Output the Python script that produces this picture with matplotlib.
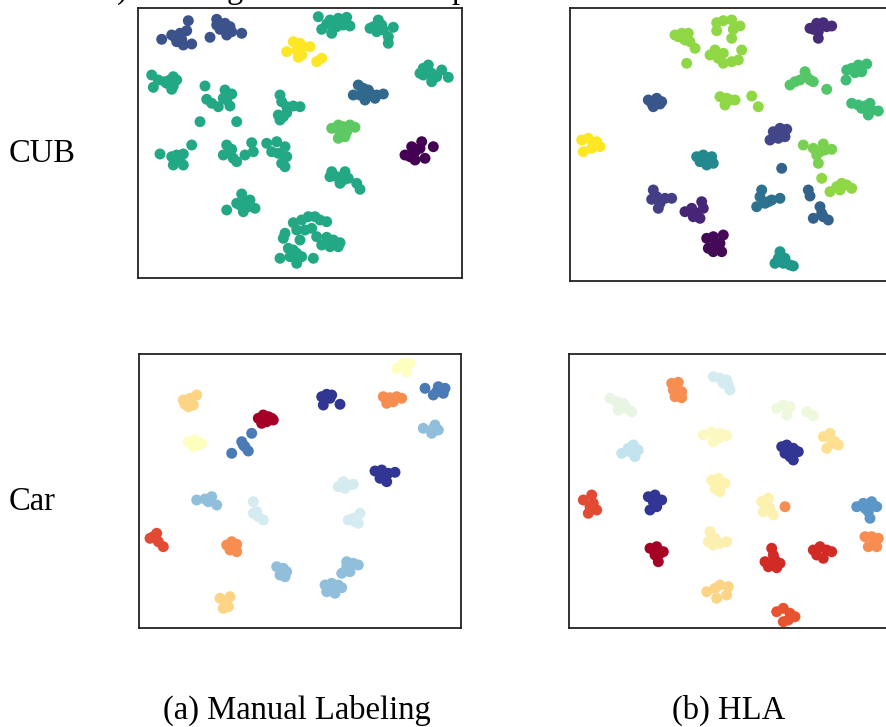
import matplotlib
matplotlib.use("Agg")
import matplotlib.pyplot as plt

plt.rcParams["font.family"] = ["Liberation Serif", "DejaVu Serif"]

# --- data: t-SNE style clusters, coordinates (pixel units) ---

# CUB, manual labeling
cub_manual_x = [
    [161.7, 171.7, 180, 188.3, 186.7, 176.7, 183.3, 191.7, 175, 181.7],
    [216.7, 225, 230, 220, 226.7, 210, 241.7, 231.7, 221.7, 216.7],
    [318.3, 330, 338.3, 346.7, 321.7, 331.7, 336.7, 343.3, 350, 326.7, 333.3],
    [370, 378.3, 383.3, 393.3, 388.3, 388.3, 376.7, 381.7, 373.3],
    [286.7, 293.3, 300, 296.7, 303.3, 310, 301.7, 298.3, 316.7, 321.7],
    [423.3, 428.3, 431.7, 441.7, 448.3, 431.7, 423.3, 436.7, 420],
    [151.7, 153.3, 158.3, 165, 170, 173.3, 176.7, 173.3, 166.7, 171.7],
    [205, 225, 231.7, 206.7, 211.7, 218.3, 226.7, 230, 200, 236.7, 223.3],
    [280, 281.7, 286.7, 293.3, 300, 278.3, 283.3, 280, 286.7],
    [358.3, 363.3, 353.3, 360, 365, 370, 376.7, 383.3, 375, 368.3],
    [331.7, 338.3, 343.3, 350, 355, 340, 346.7, 338.3, 345],
    [405, 411.7, 415, 421.7, 420, 433.3, 425, 415, 410],
    [160, 171.7, 176.7, 183.3, 173.3, 183.3, 180, 191.7, 175],
    [226.7, 223.3, 230, 233.3, 236.7, 245, 251.7, 253.3, 231.7],
    [266.7, 276.7, 271.7, 285, 286.7, 281.7, 285, 278.3],
    [331.7, 336.7, 345, 340, 330, 348.3, 356.7, 360, 343.3],
    [226.7, 236.7, 241.7, 245, 250, 255, 243.3, 240, 248.3],
    [293.3, 301.7, 308.3, 315, 320, 326.7, 296.7, 305, 311.7, 285, 283.3, 300,
     316.7, 326.7, 333.3, 340, 321.7, 330, 338.3, 288.3, 280, 296.7, 290,
     301.7, 296.7, 313.3, 293.3],
]
cub_manual_y = [
    [39.3, 35, 33.3, 20.7, 30.7, 41.7, 45, 44, 37.3, 39.3],
    [19.3, 23.3, 26.7, 29.3, 35, 37.3, 33.3, 31.7, 26, 25],
    [16.7, 20, 18.3, 17.3, 29.3, 33.3, 26.7, 25, 26, 24, 23.3],
    [28.3, 20, 30, 27.3, 36.7, 43.3, 31.7, 25, 26.7],
    [51.7, 41.7, 43.3, 50, 46.7, 46.7, 55, 57.3, 61.7, 58.3],
    [68.3, 65, 73.3, 70, 77.3, 81.7, 75, 76.7, 73.3],
    [75, 87.3, 80, 81.7, 80, 86, 80, 76.7, 83.3, 89.3],
    [86, 90, 94, 99.3, 103.3, 106.7, 100, 106, 121.7, 121.7, 98.3],
    [95, 101.7, 106.7, 106, 106.7, 115, 116.7, 120, 112.7],
    [85, 88.3, 95, 95, 100, 93.3, 95, 94, 98.3, 90],
    [128.3, 125, 126.7, 125, 127.3, 133.3, 131.7, 138.3, 136.7],
    [155, 146.7, 151.7, 141.7, 148.3, 146.7, 158.3, 160, 156.7],
    [154, 156.7, 155, 154, 165, 165, 160, 145, 161.7],
    [145, 155, 153.3, 158.3, 161.7, 155, 142.7, 151.7, 149.3],
    [143.3, 141.7, 151.7, 146.7, 156.7, 163.3, 166.7, 153.3],
    [171.7, 176.7, 171.7, 183.3, 176.7, 178.3, 183.3, 189.3, 180],
    [210, 203.3, 194, 201.7, 200, 208.3, 211.7, 205, 206.7],
    [222.7, 220, 216.7, 216.7, 220, 221.7, 230, 230, 228.3, 233.3, 238.3, 240,
     236.7, 237.3, 240, 242.7, 245, 246.7, 246.7, 248.3, 258.3, 253.3, 256.7,
     256.7, 263.3, 258.3, 250],
]
cub_manual_colors = [
    "#3b528b", "#3b528b", "#22a884", "#22a884", "#fde725", "#22a884",
    "#22a884", "#22a884", "#22a884", "#31688e", "#5ec962", "#440154",
    "#22a884", "#22a884", "#22a884", "#22a884", "#22a884", "#22a884",
]

# CUB, HLA
cub_hla_x = [
    [675, 681.7, 688.3, 685, 690, 695, 686.7, 678.3, 683.3],
    [716.7, 723.3, 731.7, 740, 716.7, 733.3, 731.7, 741.7, 715, 710, 718.3,
     723.3, 731.7, 738.3, 723.3],
    [810, 816.7, 823.3, 831.7, 818.3, 818.3, 813.3, 826.7],
    [790, 795, 800, 805, 810, 813.3, 806.7, 826.7],
    [846.7, 851.7, 858.3, 866.7, 861.7, 855, 846],
    [851.7, 858.3, 865, 870, 868.3, 878.3, 871.7, 861.7],
    [648.3, 653.3, 656.7, 661.7, 660, 651.7],
    [720, 726.7, 730, 735, 725, 751.7, 758.3],
    [581.7, 588.3, 596.7, 600, 591.7, 583.3, 593.3],
    [773.3, 780, 786.7, 785, 778.3, 770, 781.7],
    [803.3, 813.3, 823.3, 831.7, 816.7, 818.3, 825, 820],
    [821.7, 830, 836.7, 841.7, 846.7, 851.7, 840],
    [696.7, 703.3, 711.7, 713.3, 706.7, 700, 708.3],
    [653.3, 656.7, 651.7, 660, 658.3, 665, 671.7],
    [685, 691.7, 696.7, 701.7, 703.3, 700, 693.3],
    [706.7, 713.3, 723.3, 720, 708.3, 713.3, 721.7, 715],
    [761.7, 760, 756.7, 765, 771.7, 780, 768.3],
    [808.3, 810, 820, 813.3, 823.3, 828.3, 821.7, 781.7],
    [780, 778.3, 783.3, 790, 793.3, 775, 785],
]
cub_hla_y = [
    [35, 33.3, 33.3, 40, 41.7, 48.3, 63.3, 36.7, 38.3],
    [22.7, 20.7, 20, 26, 30.7, 29.3, 38.3, 50, 50, 55, 58.3, 63.3, 61.7, 60,
     53.3],
    [28.3, 23.3, 22.7, 26, 31.7, 38.3, 29.3, 26.7],
    [85, 81.7, 80, 71.7, 80, 81.7, 76.7, 89.3],
    [70, 68.3, 65, 64, 71.7, 72.7, 80],
    [103.3, 105, 106, 103.3, 115, 111, 110, 108.3],
    [100, 106.7, 98.3, 101.7, 104, 103.3],
    [96.7, 98.3, 100, 100, 105, 96, 106.7],
    [140, 138.3, 141.7, 146.7, 148.3, 151.7, 145],
    [131.7, 128.3, 129.3, 136.7, 138.3, 140, 133.3],
    [145, 148.3, 144, 149.3, 155, 163.3, 150, 151.7],
    [178.3, 191.7, 186.7, 183.3, 185, 188.3, 190],
    [156.7, 155, 156.7, 163.3, 165, 161.7, 160],
    [190, 196.7, 199.3, 203.3, 208.3, 198.3, 198.3],
    [211.7, 208.3, 213.3, 201.7, 208.3, 218.3, 216.7],
    [238.3, 236.7, 235, 243.3, 248.3, 251.7, 251.7, 245],
    [190, 196.7, 206.7, 203.3, 200, 198.3, 201.7],
    [190, 196, 206.7, 218.3, 216.7, 220, 213.3, 168.3],
    [251.7, 258.3, 263.3, 265, 266, 263.3, 258.3],
]
cub_hla_colors = [
    "#8fd744", "#8fd744", "#472c7a", "#55c667", "#3dbc74", "#3dbc74",
    "#39568c", "#8fd744", "#fde725", "#404688", "#7ad151", "#8fd744",
    "#23898e", "#433e85", "#482677", "#440a57", "#2c718e", "#33638d",
    "#1f988b",
]

# Car, manual labeling
car_manual_x = [
    [183.3, 190, 196.7, 188.3, 193.3, 185],
    [188.3, 195, 201.7, 193.3, 198.3],
    [258.3, 263.3, 268.3, 273.3, 261.7, 266.7, 271.7],
    [231.7, 241.7, 245, 248.3, 251.7, 243.3],
    [321.7, 326.7, 331.7, 323.3, 340, 330],
    [383.3, 390, 396.7, 401.7, 386.7, 393.3],
    [396.7, 403.3, 410, 406.7],
    [425, 433.3, 438.3, 445, 443.3, 436.7],
    [423.3, 431.7, 435, 438.3, 433.3],
    [375, 381.7, 388.3, 395, 380, 386.7, 383.3],
    [338.3, 343.3, 348.3, 353.3, 345],
    [196.7, 205, 211.7, 216.7, 208.3],
    [253.3, 253.3, 258.3, 263.3, 256.7],
    [348.3, 353.3, 360, 358.3, 355],
    [150, 156.7, 158.3, 163.3, 153.3],
    [226.7, 231.7, 236.7, 230, 236.7, 233.3],
    [276.7, 283.3, 286.7, 280, 285, 281.7],
    [346.7, 353.3, 358.3, 341.7, 350, 346.7],
    [325, 331.7, 338.3, 341.7, 326.7, 335, 330],
    [220, 225, 230, 223.3, 228.3],
]
car_manual_y = [
    [400, 398.3, 395, 406.7, 405, 404.3],
    [441.7, 440, 443.3, 446.7, 445],
    [418.3, 415, 416.7, 420, 423.3, 421.7, 418.3],
    [453.3, 441.7, 446.7, 451, 433.3, 445],
    [396.7, 394.3, 395, 405, 404.3, 398.3],
    [396.7, 397.7, 396.7, 398.3, 403.3, 401.7],
    [368.3, 363.3, 363.3, 371.7],
    [388.3, 395, 386.7, 388.3, 393.3, 391.7],
    [428.3, 433.3, 425, 430, 428.3],
    [471, 470, 473.3, 472.3, 478.3, 481.7, 475.7],
    [486.7, 481.7, 485, 484.3, 488.3],
    [500, 499, 496.7, 505, 501.7],
    [501.7, 513.3, 516.7, 520, 511.7],
    [520, 518.3, 513.3, 523.3, 521.7],
    [538.3, 533.3, 541.7, 546.7, 536.7],
    [545, 541.7, 544.3, 550, 551.7, 548.3],
    [566.7, 568.3, 571.7, 575, 576.7, 571],
    [561.7, 563.3, 565, 573.3, 571.7, 566.7],
    [585, 583.3, 585, 587.7, 591.7, 593.3, 589],
    [598.3, 601.7, 596.7, 608.3, 606.7],
]
car_manual_colors = [
    "#fdd384", "#fefec0", "#a50026", "#4a7bb7", "#313695", "#f88d52",
    "#fefec0", "#4a7bb7", "#91bfdb", "#313695", "#d4ebf2", "#91bfdb",
    "#d4ebf2", "#d4ebf2", "#e34a33", "#f88d52", "#91bfdb", "#91bfdb",
    "#91bfdb", "#fdd384",
]

# Car, HLA
car_hla_x = [
    [610, 616.7, 623.3, 618.3, 626.7, 631.7, 621.7],
    [671.7, 678.3, 673.3, 681.7, 675, 681.7, 676.7],
    [713.3, 720, 726.7, 728.3, 730, 723.3],
    [776.7, 783.3, 790, 786.7, 806.7, 813.3],
    [621.7, 628.3, 633.3, 638.3, 635, 630],
    [703.3, 711.7, 720, 726.7, 713.3, 718.3],
    [781.7, 786.7, 793.3, 798.3, 790, 793.3, 785],
    [823.3, 830, 835, 826.7, 838.3, 831.7],
    [711.7, 718.3, 725, 715, 720, 716.7],
    [583.3, 591.7, 593.3, 596.7, 588.3, 590],
    [648.3, 655, 661.7, 656.7, 650, 653.3],
    [761.7, 768.3, 763.3, 770, 773.3, 766.7],
    [785],
    [856.7, 863.3, 871.7, 876.7, 868.3, 870, 865],
    [865, 871.7, 878.3, 868.3, 876.7, 873.3],
    [710, 708.3, 715, 720, 726.7, 713.3],
    [650, 656.7, 663.3, 655, 658.3, 660],
    [771.7, 773.3, 765, 768.3, 776.7, 780, 775],
    [813.3, 820, 826.7, 831.7, 823.3, 816.7],
    [706.7, 715, 720, 728.3, 726.7, 716.7],
    [776.7, 783.3, 790, 795, 783.3, 788.3],
]
car_hla_y = [
    [398.3, 401.7, 403.3, 410, 408.3, 411.7, 406.7],
    [383.3, 382.3, 390, 391.7, 396.7, 397.7, 388.3],
    [376.7, 378.3, 380, 385, 390, 383.3],
    [408.3, 405, 406.7, 415, 411.7, 415.7],
    [453.3, 448.3, 445, 450, 456.7, 451.7],
    [435, 432.3, 433.3, 435.7, 441.7, 438.3],
    [446.7, 445, 448.3, 451.7, 456.7, 460, 453.3],
    [436.7, 433.3, 441.7, 448.3, 445, 443.3],
    [480, 478.3, 483.3, 488.3, 491.7, 484.3],
    [500, 495, 503.3, 510, 513.3, 506.7],
    [496.7, 495, 500, 506.7, 510, 501.7],
    [501.7, 498.3, 511.7, 508.3, 515, 505],
    [506.7],
    [506.7, 503.3, 501.7, 506.7, 511.7, 518.3, 508.3],
    [536.7, 536.7, 538.3, 546.7, 546.7, 541.7],
    [531.7, 541.7, 538.3, 543.3, 541.7, 545],
    [548.3, 546.7, 551.7, 555, 561.7, 553.3],
    [548.3, 555, 561.7, 566.7, 567.7, 563.3, 560],
    [550, 546.7, 550, 551.7, 558.3, 555],
    [591.7, 588.3, 585, 586.7, 595, 598.3],
    [611.7, 608.3, 613.3, 616.7, 621.7, 620],
]
car_hla_colors = [
    "#e8f4e4", "#f88d52", "#d4ebf2", "#eef8dc", "#c3e3ee", "#fcf8bf",
    "#313695", "#fee090", "#fdf2ae", "#e34a33", "#313695", "#fcf1ae",
    "#f88d52", "#5a97c8", "#f88d52", "#fcefb0", "#a50026", "#d22a25",
    "#d22a25", "#fdd384", "#e8532f",
]

row_labels = ["CUB", "Car"]
captions = ["(a) Manual Labeling", "(b) HLA"]

W, H = 886, 727
fig = plt.figure(figsize=(W / 100, H / 100), dpi=100)


def add_panel(left, top, right, bottom, xs, ys, colors):
    ax = fig.add_axes([left / W, 1 - bottom / H, (right - left) / W, (bottom - top) / H])
    for cx, cy, c in zip(xs, ys, colors):
        ax.scatter(cx, cy, s=62, color=c, edgecolors="none", zorder=3)
    ax.set_xlim(left, right)
    ax.set_ylim(bottom, top)
    ax.set_xticks([])
    ax.set_yticks([])
    for sp in ax.spines.values():
        sp.set_linewidth(1.3)
        sp.set_color("#222222")
    return ax


add_panel(138, 8, 462, 278, cub_manual_x, cub_manual_y, cub_manual_colors)
add_panel(570, 8, 894, 281, cub_hla_x, cub_hla_y, cub_hla_colors)
add_panel(139, 354, 461, 628, car_manual_x, car_manual_y, car_manual_colors)
add_panel(569, 354, 893, 628, car_hla_x, car_hla_y, car_hla_colors)

fs = 23.5
fig.text(9 / W, 1 - 162 / H, row_labels[0], fontsize=fs, va="baseline", ha="left")
fig.text(9 / W, 1 - 510 / H, row_labels[1], fontsize=fs, va="baseline", ha="left")
fig.text(163 / W, 1 - 719 / H, captions[0], fontsize=fs, va="baseline", ha="left")
fig.text(672 / W, 1 - 719 / H, captions[1], fontsize=fs, va="baseline", ha="left")

# descenders of the caption line above, cut off by the crop
for ch, xp in [(")", 117), ("g", 227), ("p", 452)]:
    fig.text(xp / W, 1 + 2 / H, ch, fontsize=fs, va="baseline", ha="left")

fig.savefig("out.png", dpi=100)
